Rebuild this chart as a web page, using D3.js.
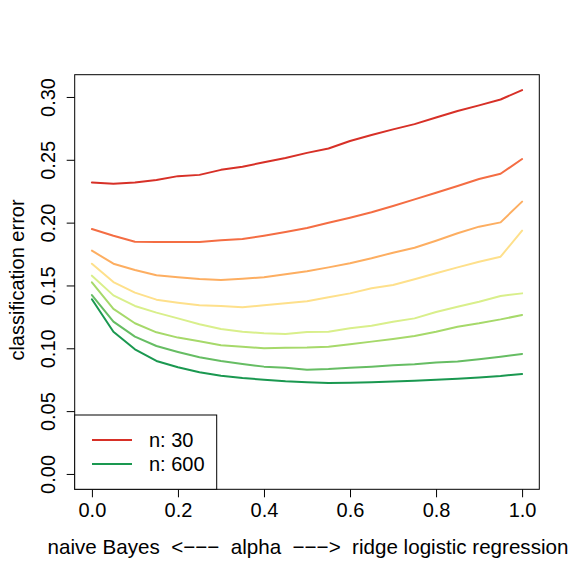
<!DOCTYPE html>
<html><head><meta charset="utf-8">
<script src="https://cdn.jsdelivr.net/npm/d3@7"></script>
<style>
html,body{margin:0;padding:0;background:#fff;}
svg{display:block;font-family:"Liberation Sans",Arial,Helvetica,sans-serif;}
</style></head>
<body>
<svg id="chart" width="581" height="581"></svg>
<script>
const alphas = [0,0.05,0.1,0.15,0.2,0.25,0.3,0.35,0.4,0.45,0.5,0.55,0.6,0.65,0.7,0.75,0.8,0.85,0.9,0.95,1.0];
const s1 = [0.232,0.231,0.232,0.234,0.237,0.238,0.242,0.2445,0.248,0.2515,0.2555,0.259,0.265,0.2697,0.2742,0.2784,0.2837,0.2888,0.2933,0.298,0.3055];
const s2 = [0.1949,0.1896,0.1848,0.1846,0.1846,0.1846,0.1859,0.187,0.1896,0.1925,0.1957,0.1999,0.2039,0.2082,0.2132,0.2185,0.2238,0.2291,0.2347,0.2389,0.2506];
const s3 = [0.1777,0.1673,0.1623,0.1581,0.1565,0.1551,0.1543,0.1554,0.1565,0.1589,0.1613,0.1644,0.1676,0.1716,0.1761,0.18,0.1856,0.1915,0.1968,0.2002,0.2167];
const s4 = [0.1673,0.1527,0.1443,0.1387,0.1363,0.1342,0.1337,0.1326,0.1342,0.1358,0.1375,0.1406,0.1437,0.1477,0.1504,0.1549,0.1597,0.1644,0.1689,0.1729,0.1936];
const s5 = [0.1578,0.1421,0.1337,0.1284,0.1238,0.1191,0.1154,0.1132,0.1119,0.1114,0.113,0.1132,0.1159,0.118,0.1212,0.1238,0.1289,0.1331,0.1371,0.1416,0.1437];
const s6 = [0.1525,0.1313,0.1199,0.1127,0.1085,0.1056,0.1024,0.1013,0.1,0.1005,0.1007,0.1013,0.1032,0.1053,0.1074,0.1098,0.1132,0.1172,0.1199,0.123,0.1265];
const s7 = [0.1424,0.1212,0.1093,0.1018,0.0971,0.0928,0.0899,0.0875,0.0854,0.0846,0.083,0.0835,0.0846,0.0854,0.0865,0.0872,0.0886,0.0894,0.0912,0.0933,0.0955];
const s8 = [0.139,0.1132,0.0992,0.0899,0.0849,0.0809,0.0782,0.0764,0.075,0.0738,0.073,0.0724,0.0725,0.0729,0.0735,0.0742,0.075,0.0758,0.0768,0.078,0.0796];
const seriesList = [s1,s2,s3,s4,s5,s6,s7,s8];
const colors = ["#d73027","#f46d43","#fdae61","#fee08b","#d9ef8b","#a6d96a","#66bd63","#1a9850"];
const xTicks = [0,0.2,0.4,0.6,0.8,1.0];
const yTicks = [0,0.05,0.1,0.15,0.2,0.25,0.3];
const legendLabels = ["n: 30","n: 600"];
const legendColors = [colors[0], colors[7]];
const xTitle = "naive Bayes  <\u2212\u2212\u2212  alpha  \u2212\u2212\u2212>  ridge logistic regression";
const yTitle = "classification error";

const L = 74.7, R = 539.3, T = 74.7, B = 489.3;
const svg = d3.select("#chart");
const FS = 20;

const xmin = d3.min(alphas), xmax = d3.max(alphas);
const xpad = (xmax - xmin) * 0.04;
const x = d3.scaleLinear().domain([xmin - xpad, xmax + xpad]).range([L, R]);
const ymax = d3.max(seriesList.flat());
const ypad = ymax * 0.04;
const y = d3.scaleLinear().domain([0 - ypad, ymax + ypad]).range([B, T]);

// lines
const line = d3.line().x((d,i)=>x(alphas[i])).y(d=>y(d));
svg.append("g").selectAll("path").data(seriesList).join("path")
  .attr("d", line).attr("fill","none")
  .attr("stroke",(d,i)=>colors[i]).attr("stroke-width",2)
  .attr("stroke-linejoin","round").attr("stroke-linecap","round");

// box
svg.append("rect").attr("x",L).attr("y",T).attr("width",R-L).attr("height",B-T)
  .attr("fill","none").attr("stroke","#000").attr("stroke-width",1);

// x axis
const xa = svg.append("g").attr("transform",`translate(0,${B})`)
  .call(d3.axisBottom(x).tickValues(xTicks).tickFormat(d3.format(".1f")).tickSize(8).tickPadding(6));
xa.select(".domain").remove();
xa.selectAll("line").attr("stroke","#000");
xa.selectAll("text").attr("font-size",FS).attr("fill","#000").attr("font-family","Liberation Sans, Arial, sans-serif");

// y axis
const ya = svg.append("g").attr("transform",`translate(${L},0)`)
  .call(d3.axisLeft(y).tickValues(yTicks).tickFormat(d3.format(".2f")).tickSize(8).tickPadding(0));
ya.select(".domain").remove();
ya.selectAll("line").attr("stroke","#000");
ya.selectAll("text").remove();
ya.selectAll(".tick").append("text")
  .attr("transform","translate(-27,0) rotate(-90)")
  .attr("text-anchor","middle").attr("dy","0.35em")
  .attr("font-size",FS).attr("fill","#000")
  .text(d=>d3.format(".2f")(d));

// titles
svg.append("text").attr("x",(L+R)/2 + 1).attr("y",554).attr("text-anchor","middle")
  .attr("font-size",20.6).attr("fill","#000").style("white-space","pre").text(xTitle);
svg.append("text").attr("transform",`translate(24,${(T+B)/2 - 2}) rotate(-90)`)
  .attr("text-anchor","middle").attr("font-size",FS).attr("fill","#000").text(yTitle);

// legend
const lg = svg.append("g");
lg.append("rect").attr("x",L).attr("y",415).attr("width",216.7-L).attr("height",B-415)
  .attr("fill","#fff").attr("stroke","#000").attr("stroke-width",1);
legendLabels.forEach((lab,i)=>{
  const ly = 440 + i*24;
  lg.append("line").attr("x1",92).attr("x2",132).attr("y1",ly).attr("y2",ly)
    .attr("stroke",legendColors[i]).attr("stroke-width",2);
  lg.append("text").attr("x",149).attr("y",ly).attr("dy","0.35em")
    .attr("font-size",FS).attr("fill","#000").text(lab);
});
</script>
</body></html>
